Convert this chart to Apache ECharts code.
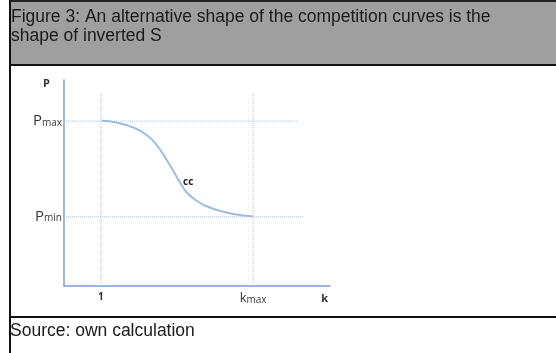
<!DOCTYPE html>
<html>
<head>
<meta charset="utf-8">
<script src="https://cdn.jsdelivr.net/npm/echarts@6/dist/echarts.min.js"></script>
<style>
  html, body { margin: 0; padding: 0; background: #fff; }
  #page { position: relative; width: 556px; height: 353px; overflow: hidden; }
  .box { position: absolute; }
  #chart { position: absolute; left: 0; top: 0; width: 556px; height: 353px; }
</style>
</head>
<body>
<div id="page">
  <!-- frame of the figure table -->
  <div class="box" style="left:11px;top:0;width:545px;height:64px;background:#9f9f9f;"></div>
  <div class="box" style="left:9px;top:0;width:547px;height:2px;background:#222;"></div>
  <div class="box" style="left:9px;top:64px;width:547px;height:2px;background:#111;"></div>
  <div class="box" style="left:9px;top:316px;width:547px;height:2px;background:#111;"></div>
  <div class="box" style="left:9px;top:0;width:2px;height:353px;background:#111;"></div>
  <div id="chart"></div>
</div>
<script>
// axis ranges (arbitrary units)
const kAxisMax = 7.2;
const pAxisMax = 10;

// marked values
const pMax = 8.0;
const pMin = 3.36;
const kOne = 1;
const kMax = 5.12;

// competition curve cc (inverted S)
const curveK = [1.02, 1.43, 1.88, 2.24, 2.51, 2.78, 2.96, 3.14, 3.32, 3.59, 3.86, 4.22, 4.58, 5.12];
const curveP = [8.02, 7.93, 7.69, 7.33, 6.84, 6.12, 5.58, 5.03, 4.55, 4.14, 3.87, 3.65, 3.50, 3.38];
const curveLabelIndex = 7;

// dotted helper lines
const pGuideEnd = [6.31, 6.47];   // right end of the pMax / pMin lines
const kGuideTop = 9.4;            // top end of the k=1 / kMax lines

const titleText = 'Figure 3: An alternative shape of the competition curves is the\nshape of inverted S';
const sourceText = 'Source: own calculation';

const axisBlue = '#7f9fd3';
const guideBlue = '#a9c0e5';
const curveBlue = '#a0bbe3';
const labelFont = 'Open Sans';

const chart = echarts.init(document.getElementById('chart'), null, {renderer: 'canvas'});

const curveData = curveK.map((k, i) => {
    if (i !== curveLabelIndex) return [k, curveP[i]];
    return {
        value: [k, curveP[i]],
        label: {
            show: true, formatter: 'cc', position: 'right', distance: 3,
            color: '#222', fontFamily: labelFont, fontWeight: 'bold', fontSize: 10
        }
    };
});

const guideStyle = {color: guideBlue, width: 1, type: 'dotted'};
const guideSeries = [
    [[0, pMax], [pGuideEnd[0], pMax]],
    [[0, pMin], [pGuideEnd[1], pMin]],
    [[kOne, 0], [kOne, kGuideTop]],
    [[kMax, 0], [kMax, kGuideTop]]
].map(d => ({
    type: 'line', data: d, symbol: 'none', silent: true,
    lineStyle: guideStyle, z: 1
}));

const subRich = {
    p: {fontSize: 15, fontFamily: labelFont, color: '#333'},
    k: {fontSize: 13, fontFamily: labelFont, color: '#333'},
    s: {fontSize: 10, fontFamily: labelFont, color: '#3a3a3a', padding: [3, 0, 0, 0]},
    n: {fontSize: 10, fontFamily: labelFont, color: '#333', fontWeight: 'bold'}
};

chart.setOption({
    animation: false,
    title: [{
        text: titleText,
        left: 11, top: 8, padding: 0,
        textStyle: {fontFamily: 'Liberation Sans', fontSize: 17.5, fontWeight: 'normal', color: '#1a1a1a', lineHeight: 19}
    }, {
        text: sourceText,
        left: 10, top: 322, padding: 0,
        textStyle: {fontFamily: 'Liberation Sans', fontSize: 17.5, fontWeight: 'normal', color: '#1a1a1a'}
    }],
    grid: {left: 64, top: 80, width: 266, height: 206, outerBoundsMode: 'none'},
    xAxis: {
        type: 'value', min: 0, max: kAxisMax,
        name: 'k', nameLocation: 'end', nameGap: -2,
        nameTextStyle: {align: 'right', verticalAlign: 'top', padding: [7, 0, 0, 0],
            fontFamily: labelFont, fontSize: 11, fontWeight: 'bold', color: '#333'},
        axisLine: {lineStyle: {color: axisBlue, width: 1.5}},
        axisTick: {show: false},
        splitLine: {show: false},
        axisLabel: {
            customValues: [kOne, kMax], margin: 6,
            formatter: v => v === kOne ? '{n|1}' : '{k|k}{s|max}',
            rich: subRich
        }
    },
    yAxis: {
        type: 'value', min: 0, max: pAxisMax,
        name: 'P', nameLocation: 'end', nameGap: -9,
        nameTextStyle: {align: 'right', padding: [0, 14, 0, 0],
            fontFamily: labelFont, fontSize: 11, fontWeight: 'bold', color: '#333'},
        axisLine: {lineStyle: {color: axisBlue, width: 1.5}},
        axisTick: {show: false},
        splitLine: {show: false},
        axisLabel: {
            customValues: [pMin, pMax], margin: 2,
            formatter: v => v === pMax ? '{p|P}{s|max}' : '{p|P}{s|min}',
            rich: subRich
        }
    },
    series: guideSeries.concat([{
        type: 'line', name: 'cc', data: curveData, smooth: true,
        symbol: 'circle', symbolSize: 0, showSymbol: true, z: 3,
        lineStyle: {color: curveBlue, width: 2}
    }])
});
</script>
</body>
</html>
